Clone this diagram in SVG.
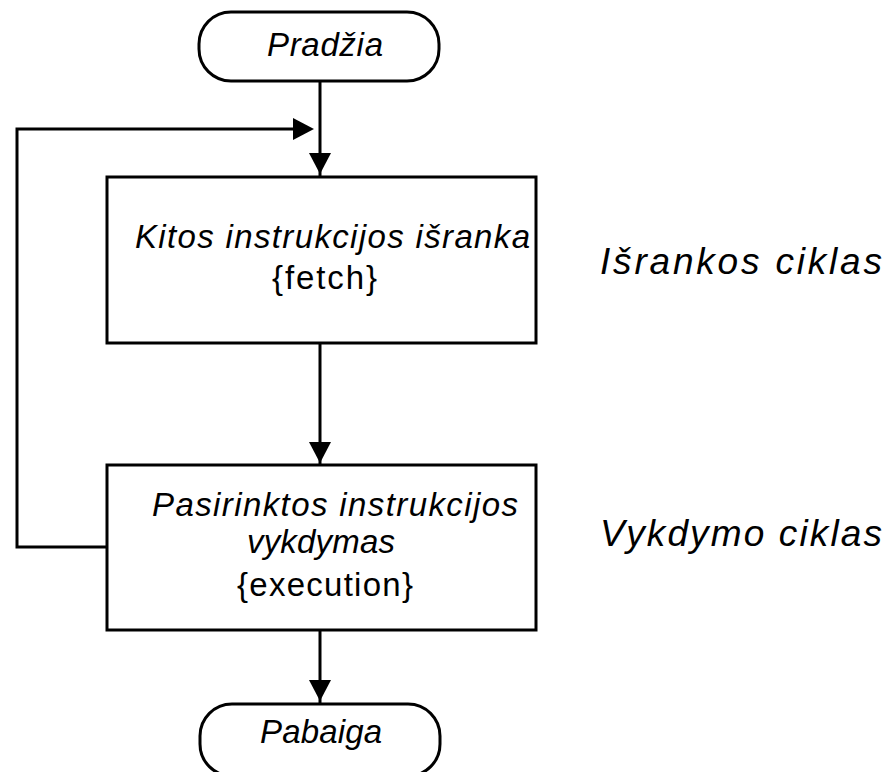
<svg xmlns="http://www.w3.org/2000/svg" width="889" height="772" viewBox="0 0 889 772">
  <style>
    .shape { fill: #fff; stroke: #000; stroke-width: 3; }
    .wire { fill: none; stroke: #000; stroke-width: 3; }
    .head { fill: #000; }
    .lbl { font-family: "Liberation Sans", Arial, sans-serif; font-size: 33px; fill: #000; }
    .side { font-size: 37px; }
    .it { font-style: italic; }
  </style>
  <defs>
    <!-- filled arrowhead, tip at origin, pointing down -->
    <path id="ah" class="head" d="M -11 -21 L 11 -21 L 0 0 Z"/>
  </defs>
  <rect width="889" height="772" fill="#fff"/>

  <g id="connectors">
    <path class="wire" d="M 320 81 L 320 176"/>
    <path class="wire" d="M 107 547 L 17 547 L 17 129 L 310 129"/>
    <path class="wire" d="M 320 343 L 320 465"/>
    <path class="wire" d="M 320 630 L 320 704"/>
    <use href="#ah" transform="translate(320,174)"/>
    <use href="#ah" transform="translate(320,463)"/>
    <use href="#ah" transform="translate(320,701)"/>
    <use href="#ah" transform="translate(314,129) rotate(-90)"/>
  </g>

  <g id="start">
    <rect class="shape" x="199" y="12" width="240" height="69" rx="32" ry="32"/>
    <text class="lbl it" x="267" y="56" textLength="116">Pradžia</text>
  </g>

  <g id="fetch">
    <rect class="shape" x="107" y="177" width="429" height="166"/>
    <text class="lbl it" x="135" y="248" textLength="395">Kitos instrukcijos išranka</text>
    <text class="lbl" x="272" y="289" textLength="105">{fetch}</text>
  </g>

  <g id="execute">
    <rect class="shape" x="107" y="465" width="429" height="165"/>
    <text class="lbl it" x="152" y="516" textLength="366">Pasirinktos instrukcijos</text>
    <text class="lbl it" x="247" y="553" textLength="148">vykdymas</text>
    <text class="lbl" x="237" y="596" textLength="176">{execution}</text>
  </g>

  <g id="end">
    <rect class="shape" x="200" y="704" width="240" height="72" rx="32" ry="32"/>
    <text class="lbl it" x="260" y="743" textLength="122">Pabaiga</text>
  </g>

  <g id="side-labels">
    <text class="lbl side it" x="600" y="274" textLength="282">Išrankos ciklas</text>
    <text class="lbl side it" x="600" y="546" textLength="282">Vykdymo ciklas</text>
  </g>
</svg>
